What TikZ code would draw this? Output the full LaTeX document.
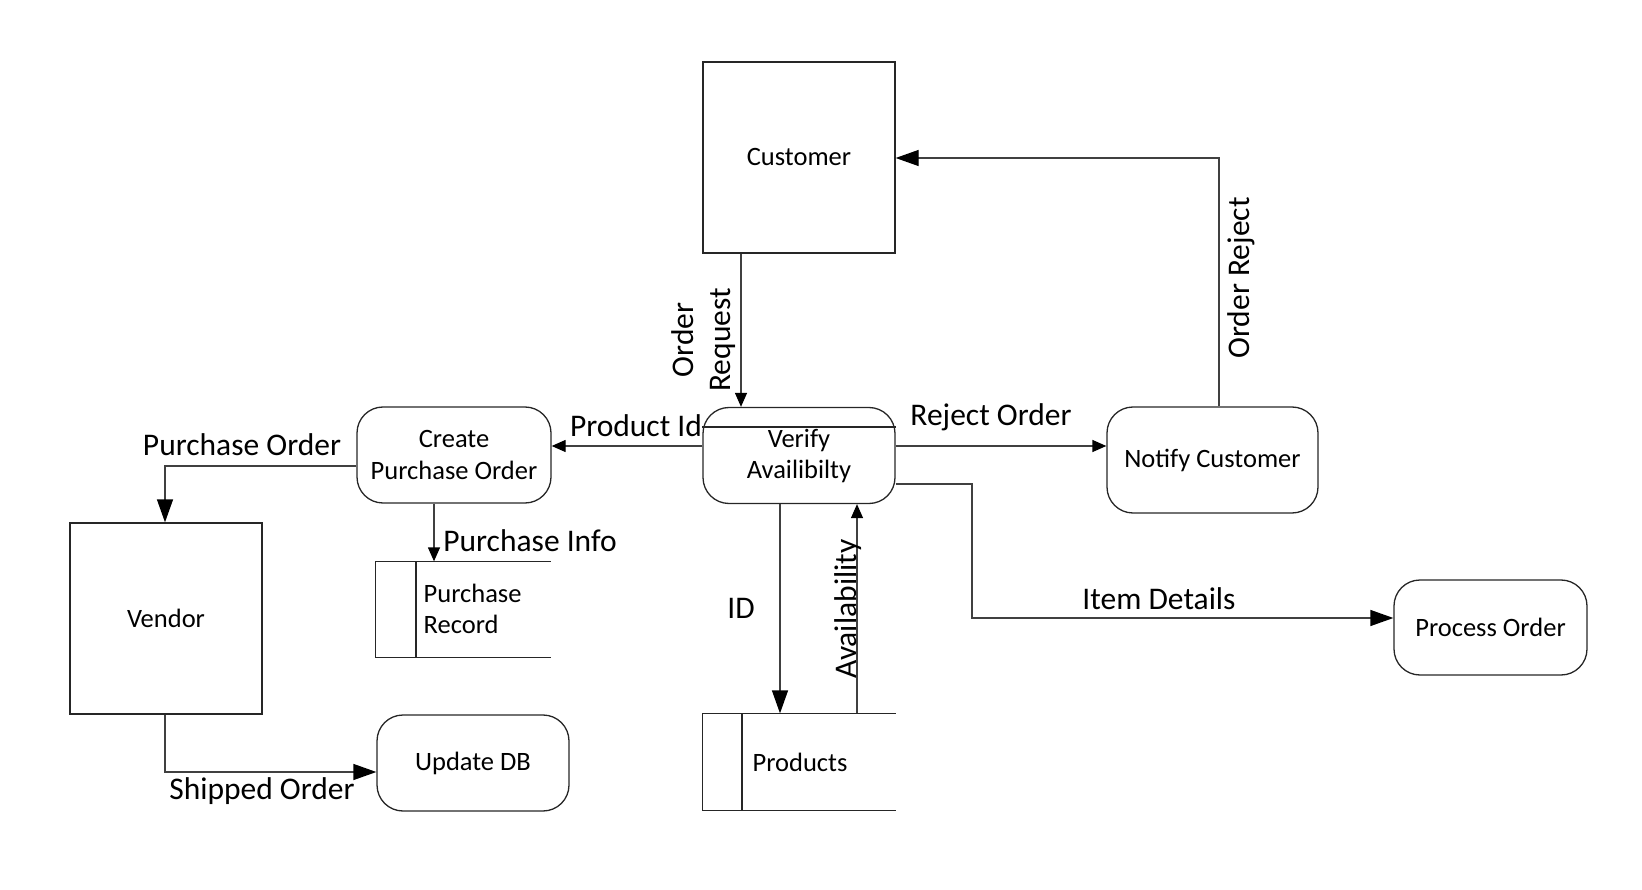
\documentclass[tikz,border=0pt]{standalone}
\usepackage{fontspec}
\setmainfont{Carlito}
\usetikzlibrary{arrows.meta,calc}
\begin{document}
\begin{tikzpicture}[x=1pt,y=-1pt,
  line width=1.3pt,
  ntext/.style={font=\fontsize{26.5}{31.5}\selectfont, align=center},
  lbl/.style={font=\fontsize{31.5}{37}\selectfont, inner sep=0pt, text=black},
  entity/.style={draw=black!85, ntext, inner sep=0pt},
  proc/.style={draw=black!85, rounded corners=26pt, ntext, inner sep=0pt},
  storebox/.style={draw=none, inner sep=0pt},
  flow/.style={draw=black!75, -{Triangle[length=23pt,width=16pt,color=black]}},
  sflow/.style={draw=black!75, -{Triangle[length=14pt,width=12pt,color=black]}}
]
\useasboundingbox (0,0) rectangle (1642,890);
% entities
\node[entity, minimum width=192pt, minimum height=191pt] (customer) at (799,157.5) {Customer};
\node[entity, minimum width=192pt, minimum height=191pt] (vendor) at (166,618.5) {Vendor};
% processes
\node[proc, minimum width=192pt, minimum height=96pt, text depth=0pt] (verify) at (799,455.5) {};
\node[ntext, inner sep=0pt] (verifytext) at (799,456) {Verify\\Availibilty};
\draw[black!85] (verify.west |- 0,427) -- (verify.east |- 0,427);
\node[proc, minimum width=194pt, minimum height=96pt] (create) at (454,455) {Create\\Purchase Order};
\node[proc, minimum width=211pt, minimum height=106pt] (notify) at (1212.5,460) {Notify Customer};
\node[proc, minimum width=193pt, minimum height=95pt] (procorder) at (1490.5,627.5) {Process Order};
\node[proc, minimum width=192pt, minimum height=96pt] (update) at (473,763) {Update DB};
% stores
\node[storebox, minimum width=174pt, minimum height=95pt] (prec) at (463,609.5) {};
\draw[black!85] (prec.north east) -- (prec.north west) -- (prec.south west) -- (prec.south east);
\draw[black!85] (416,0 |- prec.north) -- (416,0 |- prec.south);
\node[ntext, anchor=west, align=left, inner sep=0pt] (prectext) at (423,609) {Purchase\\Record};
\node[storebox, minimum width=192pt, minimum height=96pt] (products) at (799,762) {};
\draw[black!85] (products.north east) -- (products.north west) -- (products.south west) -- (products.south east);
\draw[black!85] (742,0 |- products.north) -- (742,0 |- products.south);
\node[ntext, anchor=west, inner sep=0pt] (prodtext) at (752,762) {Products};
% connectors
\draw[sflow] (741,0 |- customer.south) -- (741,0 |- verify.north);
\draw[sflow] (verify.west |- 0,446) -- (create.east |- 0,446);
\draw[sflow] (verify.east |- 0,446) -- (notify.west |- 0,446);
\draw[flow] (1219,0 |- notify.north) -- (1219,158) -- (customer.east |- 0,158);
\draw[flow] (verify.east |- 0,484) -- (972,484) -- (972,618) -- (procorder.west |- 0,618);
\draw[flow] (780,0 |- verify.south) -- (780,0 |- products.north);
\draw[sflow] (857,0 |- products.north) -- (857,0 |- verify.south);
\draw[flow] (create.west |- 0,466) -- (165,466) -- (165,0 |- vendor.north);
\draw[sflow] (434,0 |- create.south) -- (434,0 |- prec.north);
\draw[flow] (165,0 |- vendor.south) -- (165,772) -- (update.west |- 0,772);
% labels
\node[lbl, rotate=90, align=center] (lorder) at (704,340) {Order\\Request};
\node[lbl] (lprodid) at (636,426) {Product Id};
\node[lbl] (lreject) at (991,417) {Reject Order};
\node[lbl, rotate=90] (lorej) at (1241,278) {Order Reject};
\node[lbl] (litem) at (1159,599) {Item Details};
\node[lbl] (lid) at (741,608) {ID};
\node[lbl, rotate=90] (lavail) at (848,609) {Availability};
\node[lbl] (lpo) at (242,445) {Purchase Order};
\node[lbl] (lpi) at (530,541) {Purchase Info};
\node[lbl] (lship) at (262,791) {Shipped Order};
\end{tikzpicture}
\end{document}
